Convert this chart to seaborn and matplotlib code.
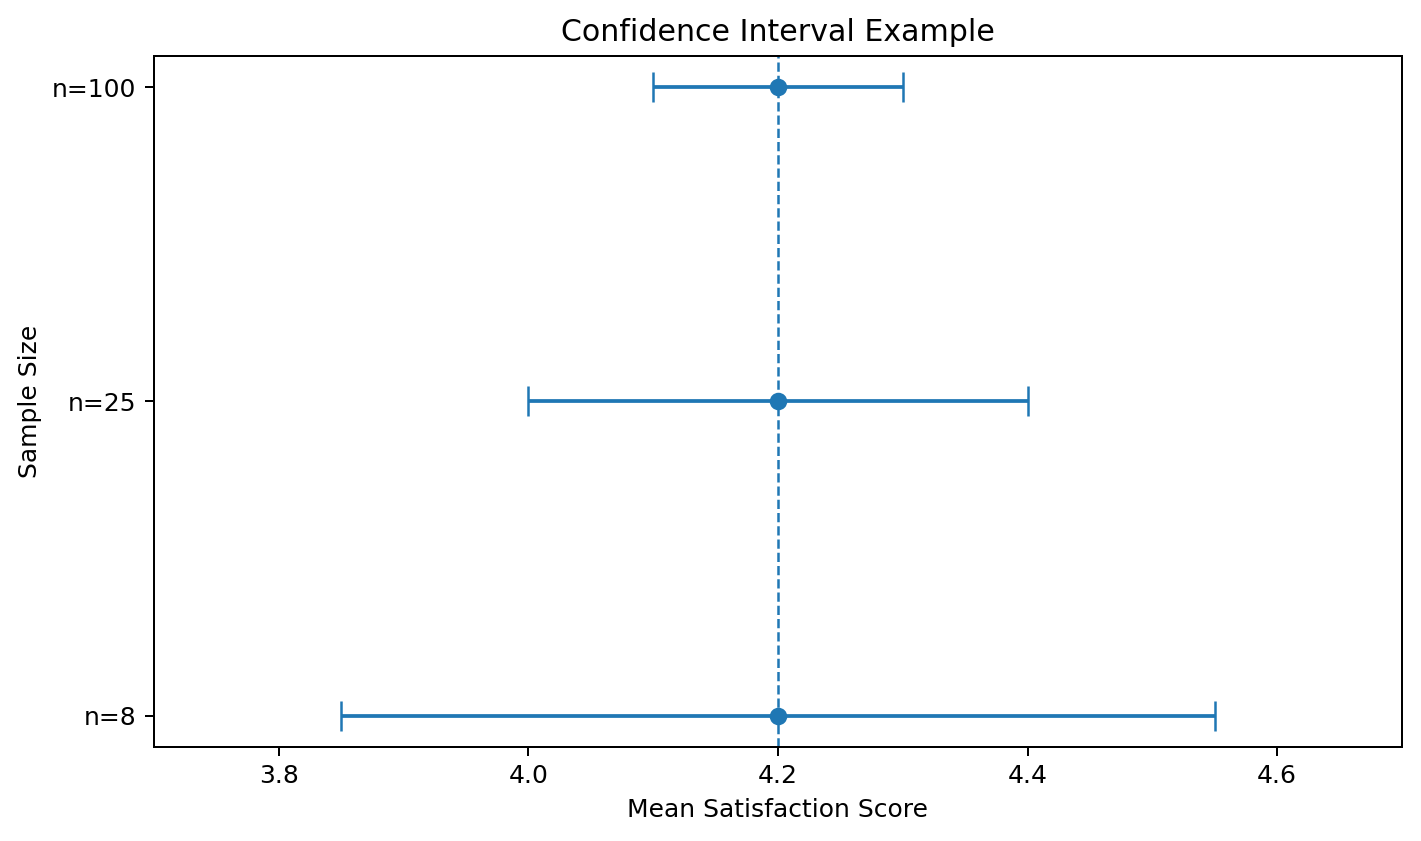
import matplotlib
matplotlib.use("Agg")
import matplotlib.pyplot as plt
import seaborn as sns
import pandas as pd

categories = ["n=8", "n=25", "n=100"]
means = [4.2, 4.2, 4.2]
half_widths = [0.35, 0.2, 0.1]
reference_mean = 4.2

df = pd.DataFrame({"size": categories, "mean": means, "err": half_widths})

DPI = 180
fig, ax = plt.subplots(figsize=(1421 / DPI, 841 / DPI), dpi=DPI)
fig.subplots_adjust(left=0.1084, right=0.9866, top=0.9334, bottom=0.1118)

ax.errorbar(df["mean"], df["size"], xerr=df["err"], fmt="none",
            ecolor="#1f77b4", elinewidth=1.5, capsize=6, zorder=2)
sns.scatterplot(data=df, x="mean", y="size", ax=ax, color="#1f77b4",
                s=36, linewidth=1, edgecolor="#1f77b4", zorder=3)
ax.axvline(reference_mean, linestyle="--", linewidth=1, color="#1f77b4", zorder=1)

ax.set_xlim(3.7, 4.7)
ax.set_ylim(-0.1, 2.1)
ax.set_xticks([3.8, 4.0, 4.2, 4.4, 4.6])
ax.set_xlabel("Mean Satisfaction Score")
ax.set_ylabel("Sample Size")
ax.set_title("Confidence Interval Example")

fig.savefig("out.png", dpi=DPI)
